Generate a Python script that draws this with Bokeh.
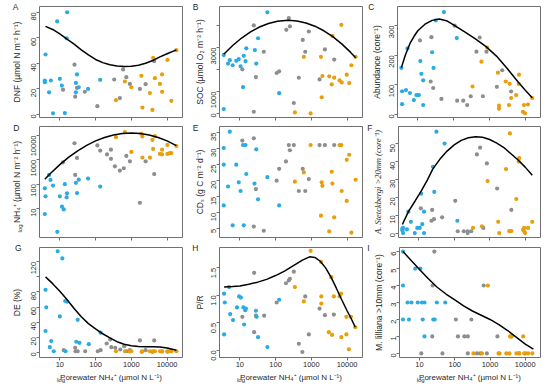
import math
from bokeh.plotting import figure
from bokeh.layouts import row, column
from bokeh.models import Range1d, FixedTicker, LinearAxis, LogAxis, CustomJSTickFormatter
from bokeh.embed import file_html
from bokeh.resources import INLINE

# ---------------- data: x given as log10(porewater NH4+), y in panel units -------------
A_blue_lx = [0.60, 0.58, 0.58, 0.70, 0.75, 0.81, 0.925, 1.0, 1.056, 1.14, 1.205, 1.19, 1.48, 1.45, 1.45, 1.53, 1.79, 2.13]
A_blue_y = [46.9, 26.5, 25.2, 17.2, 26.5, 0.8, 72.8, 27.8, 22.5, 1.0, 80.0, 59.6, 31.3, 24.6, 17.2, 21.2, 19.9, 27.0]
A_gray_lx = [1.09, 1.41, 1.43, 1.48, 1.70, 2.05, 2.52, 2.68, 2.77, 2.86, 2.96, 3.24, 3.40, 3.64]
A_gray_y = [19.3, 38.9, 13.8, 20.7, 17.7, 6.4, 27.3, 12.7, 35.2, 29.1, 23.8, 19.9, 23.6, 41.6]
A_orange_lx = [2.57, 2.82, 3.0, 3.28, 3.31, 3.52, 3.59, 3.61, 3.66, 3.80, 3.86, 3.86, 4.01, 4.12, 4.26]
A_orange_y = [11.1, 25.7, 21.2, 30.2, 5.3, 16.7, 3.4, 44.2, 28.3, 23.8, 31.3, 17.7, 42.6, 10.6, 50.3]
A_curve_lx = [0.6, 0.8, 1.0, 1.2, 1.4, 1.6, 1.8, 2.0, 2.2, 2.4, 2.6, 2.8, 3.0, 3.2, 3.4, 3.6, 3.8, 4.0, 4.26]
A_curve_y = [68.9, 66.5, 63.0, 59.0, 55.0, 50.5, 46.5, 43.0, 40.5, 38.8, 37.8, 37.5, 37.7, 38.5, 40.0, 42.2, 45.0, 47.5, 50.5]

B_blue_lx = [0.55, 0.55, 0.67, 0.72, 0.80, 0.90, 0.97, 1.02, 1.11, 1.16, 1.18, 1.09, 1.42, 1.46, 1.51, 1.77, 2.10]
B_blue_y = [2662, 200, 2277, 2431, 2200, 2400, 2477, 2154, 2630, 2385, 2970, 1200, 2892, 2277, 3430, 4615, 923]
B_gray_lx = [1.07, 1.39, 1.39, 1.45, 1.67, 2.03, 2.10, 2.37, 2.30, 2.40, 2.51, 2.65, 2.76, 2.83, 2.93, 3.23, 3.38, 3.64]
B_gray_y = [2015, 4015, 77, 1660, 2815, 1846, 1923, 4354, 3815, 3970, 477, 1630, 3354, 2815, 3740, 1554, 2923, 2460]
B_orange_lx = [2.54, 2.79, 2.98, 3.27, 3.29, 3.31, 3.50, 3.59, 3.64, 3.57, 3.79, 3.84, 3.85, 3.99, 4.06, 4.12, 4.24]
B_orange_y = [46, 2585, 0, 2585, 738, 1708, 1692, 3538, 1630, 1323, 1508, 4046, 1415, 1770, 1385, 2200, 2585]
B_curve_lx = [0.55, 0.8, 1.05, 1.3, 1.55, 1.8, 2.05, 2.35, 2.6, 2.85, 3.1, 3.35, 3.6, 3.85, 4.1, 4.24]
B_curve_y = [2701, 3102, 3442, 3723, 3944, 4105, 4207, 4250, 4220, 4130, 3981, 3772, 3503, 3175, 2786, 2543]

C_blue_lx = [0.54, 0.56, 0.56, 0.67, 0.71, 0.78, 0.89, 0.96, 1.03, 1.07, 1.10, 1.15, 1.15, 1.40, 1.44, 1.50, 1.73, 2.09]
C_blue_y = [157, 78, 34, 82, 223, 72, 48, 65, 65, 180, 137, 115, 31, 210, 157, 318, 346, 258]
C_gray_lx = [1.06, 1.38, 1.36, 1.43, 1.66, 2.03, 2.10, 2.27, 2.38, 2.48, 2.64, 2.73, 2.82, 2.92, 3.21, 3.36, 3.61]
C_gray_y = [250, 261, 111, 89, 52, 300, 46, 46, 31, 61, 212, 260, 61, 212, 93, 149, 77]
C_orange_lx = [2.53, 2.78, 2.94, 3.24, 3.27, 3.27, 3.46, 3.55, 3.57, 3.61, 3.75, 3.83, 3.82, 3.97, 3.94, 4.00, 4.08, 4.20]
C_orange_y = [94, 178, 226, 141, 29, 19, 111, 31, 103, 55, 65, 134, 103, 31, 8, 3, 33, 55]
C_curve_lx = [0.54, 0.65, 0.78, 0.9, 1.0, 1.2, 1.4, 1.6, 1.8, 2.0, 2.3, 2.6, 2.9, 3.2, 3.5, 3.8, 4.0, 4.2]
C_curve_y = [158, 200, 240, 265, 283, 305, 318, 323, 317, 303, 280, 256, 230, 197, 155, 110, 82, 56]

D_blue_lx = [0.58, 0.58, 0.60, 0.70, 0.74, 0.81, 0.93, 1.0, 1.06, 1.11, 1.14, 1.19, 1.20, 1.45, 1.48, 1.53, 1.79, 2.13]
D_blue_y = [5.9, 67, 31.6, 240, 149, 87, 1.1, 31.6, 11.8, 9.1, 100, 28.7, 42, 113, 43, 152, 169, 79]
D_gray_lx = [1.09, 1.41, 1.43, 1.48, 2.05, 2.13, 2.32, 2.43, 2.43, 2.54, 2.68, 2.79, 2.86, 2.96, 3.24, 3.40, 3.64]
D_gray_y = [790, 4800, 240, 1200, 3900, 2400, 1660, 2600, 1100, 540, 360, 450, 1450, 870, 17, 870, 260]
D_orange_lx = [2.57, 2.82, 3.0, 3.28, 3.31, 3.31, 3.52, 3.59, 3.61, 3.66, 3.80, 3.86, 3.86, 4.01, 4.01, 4.08, 4.12, 4.26]
D_orange_y = [8500, 13700, 2100, 11700, 9100, 1240, 1240, 6600, 2800, 9400, 1750, 2600, 1660, 4100, 1750, 1900, 1900, 3700]
D_curve_lx = [0.58, 0.75, 1.0, 1.25, 1.5, 1.75, 2.0, 2.25, 2.5, 2.75, 3.0, 3.25, 3.5, 3.75, 4.0, 4.26]
D_curve_y = [158, 288, 631, 1288, 2344, 3890, 6026, 8318, 10471, 12023, 12589, 12023, 10471, 8318, 6026, 3802]

E_blue_lx = [0.55, 0.55, 0.55, 0.67, 0.72, 0.80, 0.90, 0.97, 1.02, 1.09, 1.11, 1.16, 1.18, 1.41, 1.46, 1.51, 1.77, 2.10]
E_blue_y = [30.2, 25.0, 12.3, 18.2, 35.3, 6.1, 25.0, 19.5, 16.8, 31.1, 6.1, 31.1, 22.1, 19.1, 29.8, 14.2, 21.1, 12.3]
E_gray_lx = [1.07, 1.39, 1.39, 1.45, 1.67, 2.03, 2.10, 2.29, 2.37, 2.40, 2.51, 2.65, 2.76, 2.83, 2.93, 3.23, 3.38, 3.64]
E_gray_y = [32.5, 33.2, 5.7, 17.4, 4.4, 20.0, 23.7, 26.0, 31.1, 29.5, 31.1, 16.8, 23.7, 16.8, 20.5, 31.1, 31.1, 31.1]
E_orange_lx = [2.54, 2.79, 2.98, 3.27, 3.29, 3.31, 3.50, 3.57, 3.59, 3.64, 3.79, 3.84, 3.85, 3.99, 3.99, 4.06, 4.12, 4.24]
E_orange_y = [19.7, 22.6, 31.1, 9.1, 19.5, 18.4, 4.2, 22.8, 19.1, 8.6, 31.1, 31.1, 16.8, 26.5, 13.7, 28.1, 3.8, 20.3]

F_blue_lx = [0.54, 0.54, 0.56, 0.56, 0.67, 0.71, 0.78, 0.89, 0.96, 1.03, 1.07, 1.10, 1.15, 1.15, 1.40, 1.44, 1.50, 1.73, 2.09]
F_blue_y = [2.5, 1.5, 0, 2.9, 2.1, 12.0, 6.3, 0, 2.9, 2.9, 22.1, 5.0, 12.0, 0, 37.2, 23.1, 56.9, 50.2, 6.9]
F_gray_lx = [1.06, 1.38, 1.36, 1.43, 1.66, 2.03, 2.10, 2.27, 2.38, 2.38, 2.48, 2.64, 2.73, 2.82, 2.92, 3.21, 3.61]
F_gray_y = [13.9, 13.0, 6.9, 7.8, 8.8, 18.1, 1.0, 1.0, 0, 1.0, 1.0, 44.1, 47.9, 2.9, 39.1, 25.0, 13.0]
F_orange_lx = [2.53, 2.78, 2.94, 3.24, 3.27, 3.46, 3.55, 3.57, 3.61, 3.75, 3.83, 3.82, 3.94, 3.97, 4.00, 3.97, 4.08, 4.20]
F_orange_y = [2.9, 3.8, 29.2, 6.3, 0, 35.9, 1.1, 55.9, 1.1, 19.1, 42.0, 40.1, 1.9, 1.0, 0, 2.9, 2.9, 6.3]
F_curve_lx = [0.54, 0.71, 0.9, 1.07, 1.25, 1.4, 1.6, 1.8, 2.0, 2.2, 2.4, 2.6, 2.8, 3.0, 3.2, 3.4, 3.6, 3.8, 4.0, 4.2]
F_curve_y = [4.8, 12.0, 18.0, 23.5, 30.0, 36.0, 41.5, 46.0, 49.5, 52.0, 53.5, 54.0, 53.8, 52.5, 50.5, 48.0, 44.5, 41.0, 37.0, 32.5]

G_blue_lx = [0.60, 0.62, 0.60, 0.72, 0.76, 0.83, 0.94, 1.0, 1.07, 1.15, 1.20, 1.16, 1.50, 1.46, 1.55, 1.81, 2.14]
G_blue_y = [82.8, 59.6, 28.2, 6.7, 14.8, 1.3, 134, 47.5, 124.5, 68.0, 67.0, 1.3, 43, 13.9, 12.5, 10.7, 26]
G_gray_lx = [1.11, 1.43, 1.44, 1.50, 1.71, 2.06, 2.14, 2.31, 2.41, 2.44, 2.55, 2.69, 2.80, 2.87, 2.96, 3.24, 3.40, 3.64]
G_gray_y = [2.7, 5.8, 1.3, 1.3, 1.3, 1.3, 2.7, 11.6, 17.0, 6.7, 5.8, 3.6, 8.0, 1.3, 2.7, 15.7, 2.7, 15.7]
G_orange_lx = [2.57, 2.82, 2.96, 3.0, 3.29, 3.31, 3.52, 3.59, 3.61, 3.66, 3.80, 3.86, 3.86, 4.01, 4.01, 4.08, 4.12, 4.26]
G_orange_y = [1.3, 1.3, 1.0, 1.3, 0.4, 1.3, 1.3, 0.4, 1.3, 1.3, 1.3, 0.8, 1.3, 1.3, 0.5, 1.3, 1.3, 1.3]
G_curve_lx = [0.6, 0.8, 1.0, 1.2, 1.4, 1.6, 1.8, 2.0, 2.2, 2.4, 2.6, 2.8, 3.0, 3.2, 3.4, 3.6, 3.8, 4.0, 4.26]
G_curve_y = [100, 91, 81, 70, 58, 47, 38, 31, 24.5, 19, 14, 10.5, 8.5, 7.5, 7.2, 7.2, 6.8, 5.5, 2.5]

H_blue_lx = [0.56, 0.58, 0.56, 0.70, 0.73, 0.81, 0.92, 0.98, 1.03, 1.10, 1.12, 1.15, 1.17, 1.45, 1.47, 1.51, 1.77, 2.10]
H_blue_y = [1.03, 0.87, 0.29, 1.15, 0.66, 0.55, 0.78, 0.98, 0.96, 0.78, 0.47, 0.73, 0.76, 0.72, 0.61, 0.24, 0.06, 0.92]
H_gray_lx = [1.07, 1.40, 1.40, 1.45, 1.68, 2.03, 2.29, 2.37, 2.40, 2.51, 2.65, 2.75, 2.83, 2.93, 3.23, 3.38, 3.63]
H_gray_y = [0.61, 1.41, 0.33, 0.63, 0.63, 0.87, 1.22, 1.27, 1.30, 1.43, 0.12, -0.03, 0.98, 0.29, 0.76, 0.64, 0.65]
H_orange_lx = [2.54, 2.79, 2.98, 3.27, 3.28, 3.28, 3.49, 3.56, 3.58, 3.63, 3.79, 3.83, 3.84, 3.98, 3.98, 4.05, 4.11, 4.23]
H_orange_y = [1.15, 0.89, 1.81, 1.61, 0.98, 0.85, 0.33, 1.33, 0.28, 0.98, 0.98, 1.03, 0.24, 0.61, 0.29, 0.02, 0.61, 0.42]
H_curve_lx = [0.56, 0.8, 1.0, 1.25, 1.5, 1.75, 2.0, 2.25, 2.5, 2.75, 2.95, 3.1, 3.25, 3.4, 3.55, 3.7, 3.85, 4.0, 4.12, 4.23]
H_curve_y = [1.15, 1.16, 1.17, 1.20, 1.24, 1.29, 1.36, 1.44, 1.54, 1.64, 1.70, 1.69, 1.62, 1.50, 1.33, 1.13, 0.92, 0.72, 0.57, 0.42]

I_blue_lx = [0.53, 0.53, 0.53, 0.66, 0.70, 0.77, 0.88, 0.95, 1.02, 1.07, 1.09, 1.14, 1.14, 1.39, 1.43, 1.49, 1.73]
I_blue_y = [6, 4, 2, 3, 2, 3, 5, 3, 5, 3, 2, 3, 1, 2, 2, 3, 3]
I_gray_lx = [1.05, 1.37, 1.36, 1.42, 1.65, 2.03, 2.09, 2.27, 2.37, 2.37, 2.47, 2.63, 2.72, 2.82, 2.91, 3.21, 3.61]
I_gray_y = [0, 4, 1, 6, 0, 2, 1, 1, 0, 1, 2, 0, 0, 4, 0, 1, 1]
I_orange_lx = [2.53, 2.77, 2.94, 3.24, 3.27, 3.46, 3.55, 3.57, 3.58, 3.61, 3.75, 3.83, 3.82, 3.94, 3.97, 4.00, 4.08, 4.20]
I_orange_y = [0, 0, 4, 0, 0, 0, 0, 1, 1, 1, 0, 0, 0, 1, 0, 0, 0, 0]
I_curve_lx = [0.53, 0.75, 1.0, 1.25, 1.5, 1.75, 2.0, 2.25, 2.5, 2.75, 3.0, 3.25, 3.5, 3.75, 4.0, 4.23]
I_curve_y = [6.0, 5.5, 4.95, 4.4, 3.9, 3.5, 3.15, 2.8, 2.5, 2.25, 2.0, 1.7, 1.35, 0.95, 0.55, 0.25]

X_TICKS = [10, 100, 1000, 10000]
X_TICK_LABELS = {10: "10", 100: "100", 1000: "1000", 10000: "10000"}
LETTERS = ["A", "B", "C", "D", "E", "F", "G", "H", "I"]
Y_TITLES = ["DNF (µmol N m⁻² h⁻¹)", "SOC (µmol O₂ m⁻² h⁻¹)", "Abundance (core⁻¹)",
            "NH₄⁺ (µmol N m⁻² h⁻¹)", "CDₛ (g C m⁻² d⁻¹)", "A. Stetckbergi >20mm (core⁻¹)",
            "DE (%)", "P/R", "M. lilliana >10mm (core⁻¹)"]
X_TITLE_MAIN = "Porewater NH₄⁺ (µmol N L⁻¹)"
SUB_LOG = "log"

# ---------------- style / layout ----------------
BLUE = "#2BABE2"
GRAY = "#8E8E8E"
ORANGE = "#E99E0C"
FRAME = "#707070"
TXT = "#2a2a2a"
FONT = "Liberation Sans"
XR = (2.7, 27000)

COLS = [dict(w=184, bl=39, br=2, ls=4), dict(w=180, bl=35, br=2, ls=1), dict(w=186, bl=33, br=10, ls=2)]
ROWS = [dict(h=122, bt=6, bb=5), dict(h=120, bt=4, bb=5), dict(h=145, bt=5, bb=30)]
LETTER_STANDOFF = [-10, -7, -6, -11, -7, -3, -13, -7, 1]


def pw(lst):
    return [10 ** v for v in lst]


def frac_to_val(lo, hi, frac, log):
    if log:
        a, b = math.log10(lo), math.log10(hi)
        return 10 ** (a + (b - a) * frac)
    return lo + (hi - lo) * frac


def bare_axis(axis):
    axis.axis_line_color = None
    axis.major_tick_line_color = None
    axis.minor_tick_line_color = None
    axis.major_tick_in = 0
    axis.major_tick_out = 0
    axis.minor_tick_in = 0
    axis.minor_tick_out = 0
    axis.major_label_text_font = FONT
    axis.major_label_text_color = TXT
    return axis


def panel(idx, spec):
    ci, ri = idx % 3, idx // 3
    c, r = COLS[ci], ROWS[ri]
    fh = r["h"] - r["bt"] - r["bb"]
    fw = c["w"] - c["bl"] - c["br"]
    ylog = bool(spec.get("ylog"))
    p = figure(width=c["w"], height=r["h"], x_axis_type="log",
               y_axis_type=("log" if ylog else "linear"),
               x_range=Range1d(*XR), y_range=Range1d(*spec["yr"]),
               output_backend="svg", toolbar_location=None,
               min_border_left=c["bl"], min_border_right=c["br"],
               min_border_top=r["bt"], min_border_bottom=r["bb"])
    p.grid.visible = False
    p.outline_line_color = FRAME
    p.outline_line_width = 1
    p.background_fill_color = "white"
    p.border_fill_color = "white"

    xa = p.xaxis[0]
    xa.ticker = FixedTicker(ticks=X_TICKS, minor_ticks=[])
    xa.major_label_overrides = X_TICK_LABELS
    xa.axis_line_color = None
    xa.major_tick_line_color = FRAME
    xa.major_tick_in = 0
    xa.major_tick_out = 3
    xa.minor_tick_in = 0
    xa.minor_tick_out = 0
    xa.major_label_text_font = FONT
    if ri == 2:
        xa.major_label_text_font_size = "7.5px"
        xa.major_label_text_color = TXT
        xa.major_label_standoff = 1
        xa.axis_label = X_TITLE_MAIN
        xa.axis_label_text_font = FONT
        xa.axis_label_text_font_style = "normal"
        xa.axis_label_text_font_size = "8px"
        xa.axis_label_text_color = TXT
        xa.axis_label_standoff = 3
        # small subscript "log" in front of the x title
        xlog = frac_to_val(XR[0], XR[1], 21.5 / fw, True)
        la = bare_axis(LogAxis(ticker=FixedTicker(ticks=[xlog], minor_ticks=[]),
                               formatter=CustomJSTickFormatter(code="return '%s'" % SUB_LOG)))
        la.major_label_text_font_size = "6px"
        la.major_label_standoff = -8
        p.add_layout(la, "below")
    else:
        xa.major_label_text_font_size = "1px"
        xa.major_label_text_color = None
        xa.major_label_standoff = 0

    ya = p.yaxis[0]
    ya.ticker = FixedTicker(ticks=spec["yticks"], minor_ticks=[])
    if spec.get("ylabels"):
        ya.major_label_overrides = spec["ylabels"]
    ya.axis_line_color = None
    ya.major_tick_line_color = FRAME
    ya.major_tick_in = 0
    ya.major_tick_out = 3
    ya.minor_tick_in = 0
    ya.minor_tick_out = 0
    ya.major_label_orientation = math.pi / 2
    ya.major_label_text_font = FONT
    ya.major_label_text_font_size = "7.5px"
    ya.major_label_text_color = TXT
    ya.major_label_standoff = 3
    ya.axis_label = Y_TITLES[idx]
    ya.axis_label_text_font = spec.get("tfont", FONT)
    ya.axis_label_text_font_style = spec.get("tstyle", "normal")
    ya.axis_label_text_font_size = "8.5px"
    ya.axis_label_text_color = TXT
    ya.axis_label_standoff = c["ls"]

    for col, key in ((GRAY, "gray"), (BLUE, "blue"), (ORANGE, "orange")):
        p.scatter(pw(spec[key + "_lx"]), spec[key + "_y"], size=4.2,
                  fill_color=col, line_color=None)
    if spec.get("curve_lx"):
        p.line(pw(spec["curve_lx"]), spec["curve_y"], line_color="black", line_width=1.5)

    # panel letter: an extra, bare left axis with a single label at the frame top
    y0, y1 = spec["yr"]
    ylet = frac_to_val(y0, y1, (fh - 0.3) / fh, ylog)
    AxisCls = LogAxis if ylog else LinearAxis
    la = bare_axis(AxisCls(ticker=FixedTicker(ticks=[ylet], minor_ticks=[]),
                           formatter=CustomJSTickFormatter(code="return '%s'" % LETTERS[idx])))
    la.major_label_orientation = "horizontal"
    la.major_label_text_font_size = "8.5px"
    la.major_label_standoff = LETTER_STANDOFF[idx]
    p.add_layout(la, "left")

    if idx == 3:
        ysub = frac_to_val(y0, y1, 13.0 / fh, ylog)
        sa = bare_axis(LogAxis(ticker=FixedTicker(ticks=[ysub], minor_ticks=[]),
                               formatter=CustomJSTickFormatter(code="return '%s'" % SUB_LOG)))
        sa.major_label_orientation = math.pi / 2
        sa.major_label_text_font_size = "6px"
        sa.major_label_standoff = -11
        p.add_layout(sa, "left")
    return p


SPECS = [
    dict(yr=(-2.5, 84.5), yticks=[0, 20, 40, 60, 80],
         blue_lx=A_blue_lx, blue_y=A_blue_y, gray_lx=A_gray_lx, gray_y=A_gray_y,
         orange_lx=A_orange_lx, orange_y=A_orange_y, curve_lx=A_curve_lx, curve_y=A_curve_y),
    dict(yr=(-185, 4880), yticks=[0, 1000, 2000, 3000, 4000], ylabels={2000: "", 4000: ""},
         blue_lx=B_blue_lx, blue_y=B_blue_y, gray_lx=B_gray_lx, gray_y=B_gray_y,
         orange_lx=B_orange_lx, orange_y=B_orange_y, curve_lx=B_curve_lx, curve_y=B_curve_y),
    dict(yr=(-11, 365), yticks=[0, 100, 200, 300],
         blue_lx=C_blue_lx, blue_y=C_blue_y, gray_lx=C_gray_lx, gray_y=C_gray_y,
         orange_lx=C_orange_lx, orange_y=C_orange_y, curve_lx=C_curve_lx, curve_y=C_curve_y),
    dict(yr=(0.64, 23400), ylog=True, yticks=[10, 100, 1000, 10000],
         ylabels={10: "10", 100: "100", 1000: "1000", 10000: "10000"},
         blue_lx=D_blue_lx, blue_y=D_blue_y, gray_lx=D_gray_lx, gray_y=D_gray_y,
         orange_lx=D_orange_lx, orange_y=D_orange_y, curve_lx=D_curve_lx, curve_y=D_curve_y),
    dict(yr=(2.3, 36.9), yticks=[5, 10, 15, 20, 25, 30, 35],
         blue_lx=E_blue_lx, blue_y=E_blue_y, gray_lx=E_gray_lx, gray_y=E_gray_y,
         orange_lx=E_orange_lx, orange_y=E_orange_y),
    dict(yr=(-2.5, 59.8), yticks=[0, 10, 20, 30, 40, 50], tfont="Liberation Serif", tstyle="italic",
         blue_lx=F_blue_lx, blue_y=F_blue_y, gray_lx=F_gray_lx, gray_y=F_gray_y,
         orange_lx=F_orange_lx, orange_y=F_orange_y, curve_lx=F_curve_lx, curve_y=F_curve_y),
    dict(yr=(-7, 139), yticks=[0, 20, 40, 60, 80, 100, 120], ylabels={100: ""},
         blue_lx=G_blue_lx, blue_y=G_blue_y, gray_lx=G_gray_lx, gray_y=G_gray_y,
         orange_lx=G_orange_lx, orange_y=G_orange_y, curve_lx=G_curve_lx, curve_y=G_curve_y),
    dict(yr=(-0.13, 1.87), yticks=[0, 0.5, 1.0, 1.5],
         ylabels={0: "0.0", 0.5: "0.5", 1: "1.0", 1.5: "1.5"},
         blue_lx=H_blue_lx, blue_y=H_blue_y, gray_lx=H_gray_lx, gray_y=H_gray_y,
         orange_lx=H_orange_lx, orange_y=H_orange_y, curve_lx=H_curve_lx, curve_y=H_curve_y),
    dict(yr=(-0.24, 6.24), yticks=[0, 1, 2, 3, 4, 5, 6],
         blue_lx=I_blue_lx, blue_y=I_blue_y, gray_lx=I_gray_lx, gray_y=I_gray_y,
         orange_lx=I_orange_lx, orange_y=I_orange_y, curve_lx=I_curve_lx, curve_y=I_curve_y),
]

figs = [panel(i, s) for i, s in enumerate(SPECS)]
layout = column(row(*figs[0:3]), row(*figs[3:6]), row(*figs[6:9]))

open("out.html", "w").write(file_html(layout, INLINE))
